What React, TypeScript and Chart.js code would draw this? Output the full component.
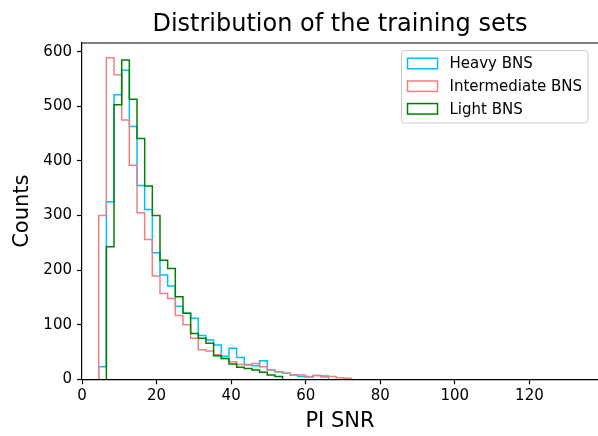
import React, { useEffect, useRef } from "react";
import { Chart, registerables } from "chart.js";

Chart.register(...registerables);

// Histogram bins (shared equal-width bins)
const binStart = 4.48;
const binWidth = 2.055;

// Counts per bin
const heavyBNS = [23, 325, 521, 566, 463, 355, 311, 232, 191, 171, 134, 121, 112, 80, 72, 63, 42, 57, 40, 27, 25, 34, 17, 14, 11, 8, 5, 4, 7, 6];
const intermediateBNS = [300, 589, 558, 475, 392, 305, 256, 189, 157, 148, 117, 100, 75, 54, 52, 45, 38, 32, 27, 26, 29, 23, 17, 14, 11, 8, 8, 5, 7, 4, 5, 3, 2];
const lightBNS = [0, 243, 503, 585, 513, 441, 354, 300, 218, 203, 151, 121, 84, 75, 66, 43, 38, 28, 22, 20, 17, 13, 8, 5];

const seriesNames = ["Heavy BNS", "Intermediate BNS", "Light BNS"];
const seriesColors = ["#00bfff", "#f08080", "#008000"];

const xTickValues = [0, 20, 40, 60, 80, 100, 120];
const yTickValues = [0, 100, 200, 300, 400, 500, 600];

const titleText = "Distribution of the training sets";
const xLabel = "PI SNR";
const yLabel = "Counts";

const FONT = "'DejaVu Sans', sans-serif";

function stepOutline(values: number[]) {
  let first = 0;
  while (first < values.length && !values[first]) first++;
  const pts: { x: number; y: number }[] = [];
  const edge = (i: number) => binStart + i * binWidth;
  pts.push({ x: edge(first), y: 0 });
  for (let i = first; i < values.length; i++) {
    pts.push({ x: edge(i), y: values[i] });
    pts.push({ x: edge(i + 1), y: values[i] });
  }
  pts.push({ x: edge(values.length), y: 0 });
  return pts;
}

const decorPlugin = {
  id: "decor",
  afterDraw(chart: any) {
    const { ctx, chartArea } = chart;
    const { left, right, top } = chartArea;
    ctx.save();
    // top spine
    ctx.strokeStyle = "#000";
    ctx.lineWidth = 1.2;
    ctx.beginPath();
    ctx.moveTo(left, top);
    ctx.lineTo(right, top);
    ctx.stroke();
    // title
    ctx.fillStyle = "#000";
    ctx.font = `24px ${FONT}`;
    ctx.textAlign = "center";
    ctx.textBaseline = "alphabetic";
    ctx.fillText(titleText, (left + right) / 2, 31);
    // legend
    const fx0 = 401.5, fy0 = 50.5, fx1 = 588, fy1 = 123;
    const r = 3;
    ctx.beginPath();
    ctx.moveTo(fx0 + r, fy0);
    ctx.lineTo(fx1 - r, fy0);
    ctx.quadraticCurveTo(fx1, fy0, fx1, fy0 + r);
    ctx.lineTo(fx1, fy1 - r);
    ctx.quadraticCurveTo(fx1, fy1, fx1 - r, fy1);
    ctx.lineTo(fx0 + r, fy1);
    ctx.quadraticCurveTo(fx0, fy1, fx0, fy1 - r);
    ctx.lineTo(fx0, fy0 + r);
    ctx.quadraticCurveTo(fx0, fy0, fx0 + r, fy0);
    ctx.closePath();
    ctx.fillStyle = "rgba(255,255,255,0.8)";
    ctx.fill();
    ctx.strokeStyle = "#cccccc";
    ctx.lineWidth = 1;
    ctx.stroke();
    const rowY = [63.5, 86.2, 108.8];
    ctx.font = `15px ${FONT}`;
    ctx.textAlign = "left";
    ctx.textBaseline = "middle";
    seriesNames.forEach((name, i) => {
      ctx.strokeStyle = seriesColors[i];
      ctx.lineWidth = 1.5;
      ctx.strokeRect(407.5, rowY[i] - 5.25, 30, 10.5);
      ctx.fillStyle = "#000";
      ctx.fillText(name, 449.5, rowY[i] + 1);
    });
    ctx.restore();
  },
};

export default function App() {
  const ref = useRef<HTMLCanvasElement>(null);
  useEffect(() => {
    if (!ref.current) return;
    const allSeries = [heavyBNS, intermediateBNS, lightBNS];
    const chart = new Chart(ref.current, {
      type: "line",
      data: {
        datasets: allSeries.map((vals, i) => ({
          label: seriesNames[i],
          data: stepOutline(vals),
          borderColor: seriesColors[i],
          backgroundColor: seriesColors[i],
          borderWidth: 1.5,
          pointRadius: 0,
          fill: false,
          tension: 0,
          order: 2 - i,
        })),
      },
      options: {
        responsive: false,
        animation: false,
        devicePixelRatio: 1,
        layout: { padding: { top: 43, right: 0, left: 0, bottom: 0 } },
        plugins: {
          legend: { display: false },
          title: { display: false },
          tooltip: { enabled: false },
        },
        scales: {
          x: {
            type: "linear",
            min: 0,
            max: 138.4,
            afterBuildTicks: (scale: any) => {
              scale.ticks = xTickValues.map((v) => ({ value: v }));
            },
            afterFit: (scale: any) => {
              scale.height = 56.7;
            },
            border: { display: true, color: "#000", width: 1.2 },
            grid: {
              display: true,
              drawOnChartArea: false,
              drawTicks: true,
              tickLength: 5,
              tickWidth: 1.2,
              tickColor: "#000",
            },
            ticks: {
              color: "#000",
              padding: 3,
              maxRotation: 0,
              font: { family: FONT, size: 15 },
            },
            title: {
              display: true,
              text: xLabel,
              color: "#000",
              font: { family: FONT, size: 21, lineHeight: 1.2 },
              padding: { top: 0, bottom: 1.5 },
            },
          },
          y: {
            type: "linear",
            min: 0,
            max: 616,
            afterBuildTicks: (scale: any) => {
              scale.ticks = yTickValues.map((v) => ({ value: v }));
            },
            afterFit: (scale: any) => {
              scale.width = 82;
            },
            border: { display: true, color: "#000", width: 1.2 },
            grid: {
              display: true,
              drawOnChartArea: false,
              drawTicks: true,
              tickLength: 5,
              tickWidth: 1.2,
              tickColor: "#000",
            },
            ticks: {
              color: "#000",
              padding: 5,
              font: { family: FONT, size: 15 },
            },
            title: {
              display: true,
              text: yLabel,
              color: "#000",
              font: { family: FONT, size: 21, lineHeight: 1.2 },
              padding: { top: 9.5, bottom: 0 },
            },
          },
        },
      },
      plugins: [decorPlugin],
    });
    return () => chart.destroy();
  }, []);
  return (
    <div style={{ position: "absolute", left: 0, top: 0, width: 598, height: 436 }}>
      <canvas ref={ref} width={598} height={436} />
    </div>
  );
}
